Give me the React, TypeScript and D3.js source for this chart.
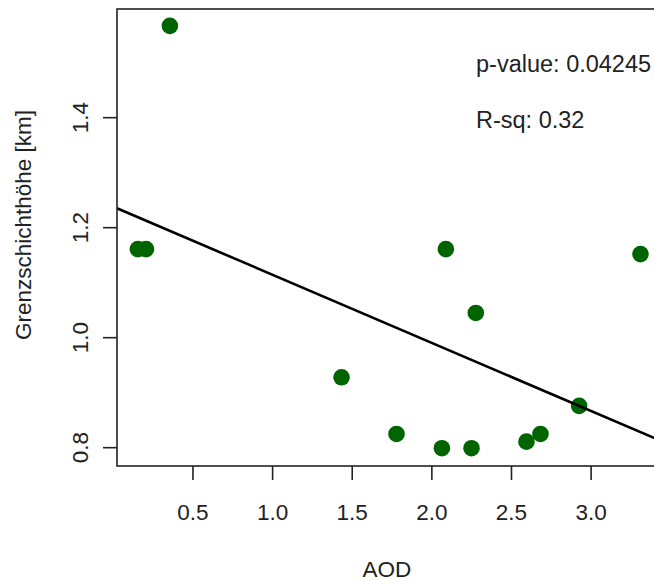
import React from "react";
import * as d3 from "d3";

const aod = [0.154, 0.205, 0.355, 1.433, 1.778, 2.063, 2.249, 2.088, 2.276, 2.594, 2.682, 2.925, 3.31];
const height = [1.161, 1.161, 1.567, 0.928, 0.825, 0.799, 0.799, 1.161, 1.045, 0.811, 0.825, 0.876, 1.152];
const xTicks = [0.5, 1.0, 1.5, 2.0, 2.5, 3.0];
const yTicks = [0.8, 1.0, 1.2, 1.4];
const statLabels = ["p-value: 0.04245", "R-sq: 0.32"];
const xTitle = "AOD";
const yTitle = "Grenzschichthöhe [km]";

const W = 654;
const H = 581;
const L = 117, R = 658, T = 9, B = 466;
const FONT = "'Liberation Sans', Arial, sans-serif";
const FS = 22.5;

export default function App() {
  const x = d3.scaleLinear().domain([0.023, 3.42]).range([L, R]);
  const y = d3.scaleLinear().domain([0.7667, 1.5976]).range([B, T]);

  const mx = d3.mean(aod)!;
  const my = d3.mean(height)!;
  let sxy = 0, sxx = 0;
  aod.forEach((v, i) => {
    sxy += (v - mx) * (height[i] - my);
    sxx += (v - mx) * (v - mx);
  });
  const slope = sxy / sxx;
  const intercept = my - slope * mx;
  const [x0, x1] = x.domain();
  const line = d3.line<[number, number]>().x(d => x(d[0])).y(d => y(d[1]));
  const linePath = line([
    [x0, intercept + slope * x0],
    [x1, intercept + slope * x1],
  ]);

  return (
    <svg width={W} height={H} style={{ position: "absolute", left: 0, top: 0, background: "#fff" }}
      fontFamily={FONT}>
      <defs>
        <clipPath id="plotclip">
          <rect x={L} y={T} width={R - L} height={B - T} />
        </clipPath>
      </defs>
      <rect x={0} y={0} width={W} height={H} fill="#fff" />
      {aod.map((v, i) => (
        <circle key={i} cx={x(v)} cy={y(height[i])} r={8.3} fill="#006400" />
      ))}
      <path d={linePath || ""} stroke="#000" strokeWidth={2.6} fill="none" clipPath="url(#plotclip)" />
      <rect x={L} y={T} width={R - L} height={B - T} fill="none" stroke="#222" strokeWidth={1.6} />
      {xTicks.map(t => (
        <g key={"x" + t}>
          <line x1={x(t)} x2={x(t)} y1={B} y2={B + 14} stroke="#222" strokeWidth={1.6} />
          <text x={x(t)} y={520} textAnchor="middle" fontSize={FS} fill="#222">{t.toFixed(1)}</text>
        </g>
      ))}
      {yTicks.map(t => (
        <g key={"y" + t}>
          <line x1={L - 14} x2={L} y1={y(t)} y2={y(t)} stroke="#222" strokeWidth={1.6} />
          <text transform={`translate(88,${y(t)}) rotate(-90)`} textAnchor="middle" fontSize={FS} fill="#222">
            {t.toFixed(1)}
          </text>
        </g>
      ))}
      <text x={387} y={577} textAnchor="middle" fontSize={FS} fill="#222">{xTitle}</text>
      <text transform={`translate(31,225) rotate(-90)`} textAnchor="middle" fontSize={FS} fill="#222">{yTitle}</text>
      <text x={476} y={72} fontSize={23.5} fill="#222">{statLabels[0]}</text>
      <text x={476} y={127.5} fontSize={23.5} fill="#222">{statLabels[1]}</text>
    </svg>
  );
}
